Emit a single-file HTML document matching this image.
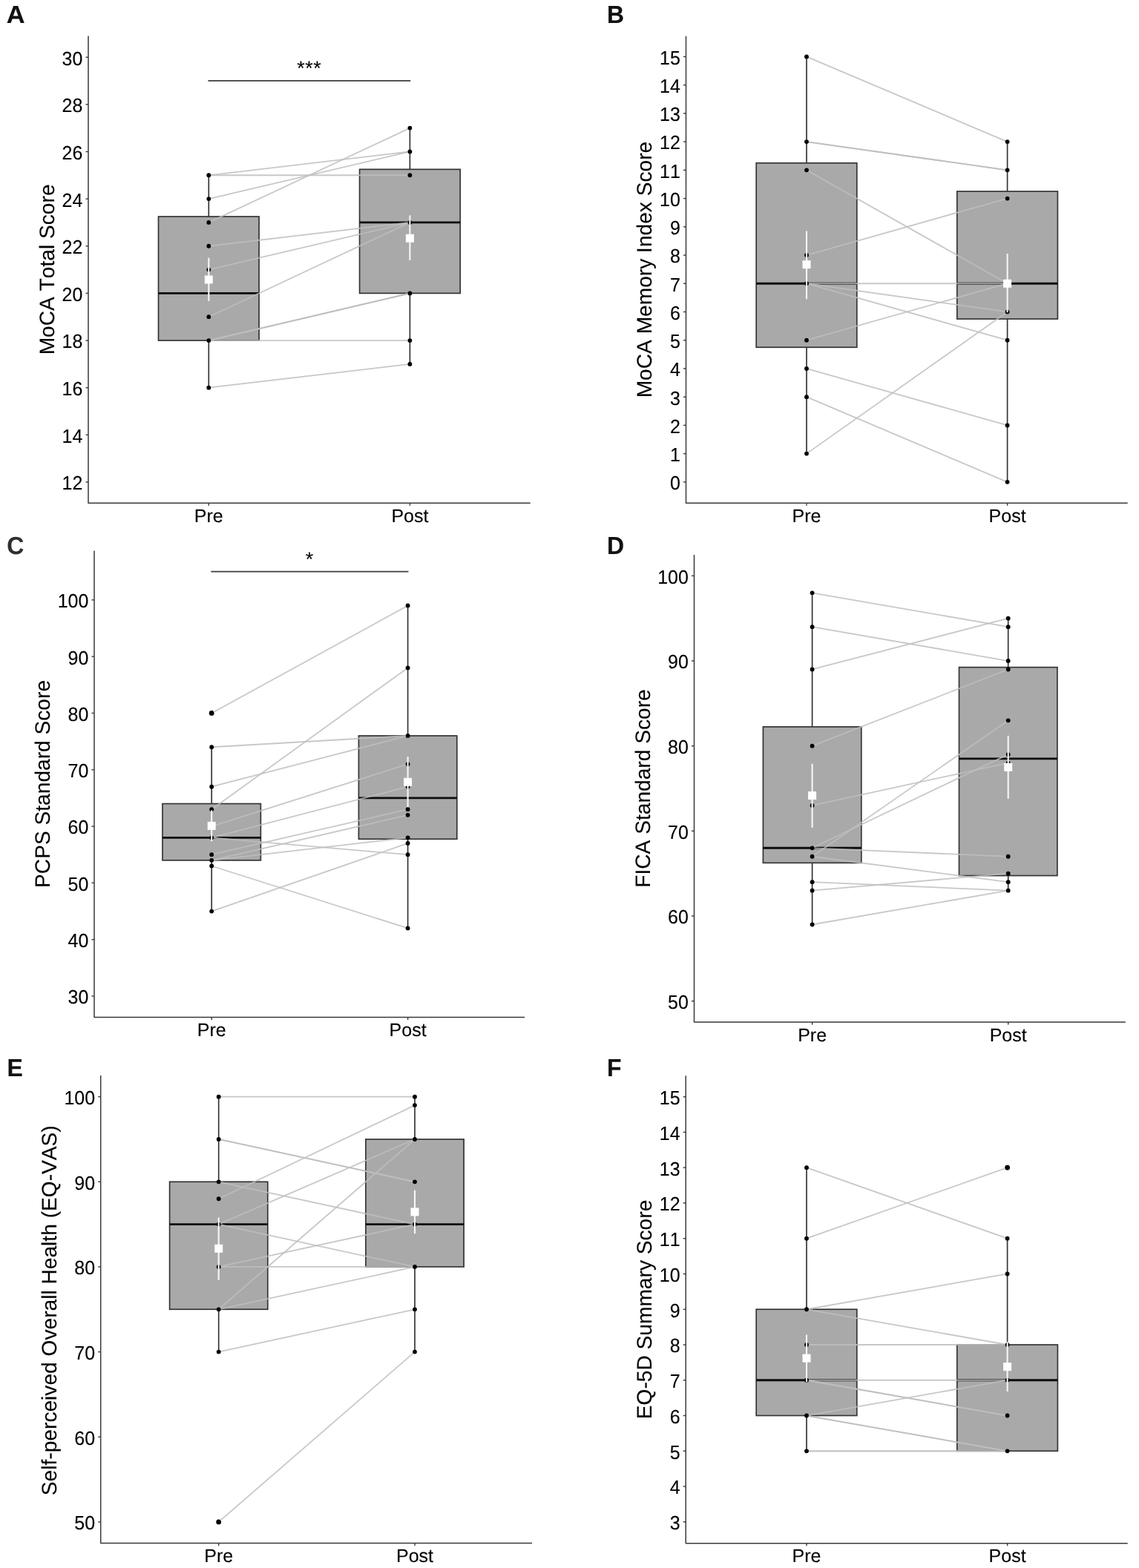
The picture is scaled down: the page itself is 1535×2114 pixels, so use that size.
<!DOCTYPE html>
<html lang="en"><head><meta charset="utf-8"><title>Figure: Pre vs Post outcome box plots</title>
<style>
html,body{margin:0;padding:0;background:#fff;}
body{width:1535px;height:2114px;overflow:hidden;}
svg{display:block;}
text{font-family:"Liberation Sans", sans-serif;fill:#000000;stroke:#000000;stroke-width:0.12px;font-kerning:none;text-rendering:geometricPrecision;}
.tick{font-size:25px;text-anchor:end;}
.xl{font-size:25px;text-anchor:middle;}
.ttl{font-size:28.15px;text-anchor:middle;}
.lab{font-size:32px;font-weight:bold;fill:#111;}
.sig{font-size:26.8px;text-anchor:middle;letter-spacing:0.62px;}
.ax{stroke:#3a3a3a;stroke-width:1.5;fill:none;stroke-linejoin:round;}
.tk{stroke:#3a3a3a;stroke-width:1.4;fill:none;}
.bx{fill:#a9a9a9;stroke:#333333;stroke-width:1.67;}
.wh{stroke:#333333;stroke-width:1.67;fill:none;}
.md{stroke:#0d0d0d;stroke-width:2.9;fill:none;}
.ln{stroke:#bebebe;stroke-opacity:0.85;stroke-width:1.8;fill:none;stroke-linecap:butt;}
.pt{fill:#000;}
.eb{stroke:#f6f6f6;stroke-width:2.1;fill:none;}
.mn{fill:#fff;}
.sg{stroke:#3c3c3c;stroke-width:1.7;fill:none;stroke-linecap:square;}
</style></head><body>
<svg width="1535" height="2114" viewBox="0 0 1535 2114" role="img" aria-label="Pre versus Post box plots, panels A to F">
<rect x="0" y="0" width="1535" height="2114" fill="#ffffff"/>
<g id="panel-A">
<line class="wh" x1="281.3" y1="236.27" x2="281.3" y2="291.97"/>
<line class="wh" x1="281.3" y1="459.05" x2="281.3" y2="522.7"/>
<rect class="bx" x="213.5" y="291.97" width="135.6" height="167.08"/>
<line class="md" x1="213.5" y1="395.4" x2="349.1" y2="395.4"/>
<line class="wh" x1="552.4" y1="172.62" x2="552.4" y2="228.32"/>
<line class="wh" x1="552.4" y1="395.4" x2="552.4" y2="490.88"/>
<rect class="bx" x="484.6" y="228.32" width="135.6" height="167.08"/>
<line class="md" x1="484.6" y1="299.92" x2="620.2" y2="299.92"/>
<line class="ln" x1="281.3" y1="236.27" x2="552.4" y2="204.45"/>
<line class="ln" x1="281.3" y1="236.27" x2="552.4" y2="236.27"/>
<line class="ln" x1="281.3" y1="268.1" x2="552.4" y2="204.45"/>
<line class="ln" x1="281.3" y1="299.92" x2="552.4" y2="172.62"/>
<line class="ln" x1="281.3" y1="331.75" x2="552.4" y2="299.92"/>
<line class="ln" x1="281.3" y1="363.57" x2="552.4" y2="299.92"/>
<line class="ln" x1="281.3" y1="427.22" x2="552.4" y2="299.92"/>
<line class="ln" x1="281.3" y1="459.05" x2="552.4" y2="395.4"/>
<line class="ln" x1="281.3" y1="459.05" x2="552.4" y2="395.4"/>
<line class="ln" x1="281.3" y1="459.05" x2="552.4" y2="395.4"/>
<line class="ln" x1="281.3" y1="459.05" x2="552.4" y2="459.05"/>
<line class="ln" x1="281.3" y1="522.7" x2="552.4" y2="490.88"/>
<circle class="pt" cx="281.3" cy="522.7" r="2.9"/>
<circle class="pt" cx="281.3" cy="459.05" r="2.9"/>
<circle class="pt" cx="281.3" cy="427.22" r="2.9"/>
<circle class="pt" cx="281.3" cy="363.57" r="2.9"/>
<circle class="pt" cx="281.3" cy="331.75" r="2.9"/>
<circle class="pt" cx="281.3" cy="299.92" r="2.9"/>
<circle class="pt" cx="281.3" cy="268.1" r="2.9"/>
<circle class="pt" cx="281.3" cy="236.27" r="2.9"/>
<circle class="pt" cx="552.4" cy="490.88" r="2.9"/>
<circle class="pt" cx="552.4" cy="459.05" r="2.9"/>
<circle class="pt" cx="552.4" cy="395.4" r="2.9"/>
<circle class="pt" cx="552.4" cy="299.92" r="2.9"/>
<circle class="pt" cx="552.4" cy="236.27" r="2.9"/>
<circle class="pt" cx="552.4" cy="204.45" r="2.9"/>
<circle class="pt" cx="552.4" cy="172.62" r="2.9"/>
<line class="eb" x1="281.3" y1="347.66" x2="281.3" y2="405.9"/>
<rect class="mn" x="275.8" y="371.44" width="11" height="11"/>
<line class="eb" x1="552.4" y1="290.38" x2="552.4" y2="350.85"/>
<rect class="mn" x="546.9" y="315.75" width="11" height="11"/>
<line class="sg" x1="281.3" y1="108.97" x2="552.4" y2="108.97"/>
<text class="sig" x="416.85" y="101.37">***</text>
<path class="ax" d="M119 48.5 V678.3 H714.7"/>
<line class="tk" x1="115.5" y1="650" x2="119" y2="650"/>
<text class="tick" transform="translate(111.4 660.4) scale(1 1.04)">12</text>
<line class="tk" x1="115.5" y1="586.35" x2="119" y2="586.35"/>
<text class="tick" transform="translate(111.4 596.75) scale(1 1.04)">14</text>
<line class="tk" x1="115.5" y1="522.7" x2="119" y2="522.7"/>
<text class="tick" transform="translate(111.4 533.1) scale(1 1.04)">16</text>
<line class="tk" x1="115.5" y1="459.05" x2="119" y2="459.05"/>
<text class="tick" transform="translate(111.4 469.45) scale(1 1.04)">18</text>
<line class="tk" x1="115.5" y1="395.4" x2="119" y2="395.4"/>
<text class="tick" transform="translate(111.4 405.8) scale(1 1.04)">20</text>
<line class="tk" x1="115.5" y1="331.75" x2="119" y2="331.75"/>
<text class="tick" transform="translate(111.4 342.15) scale(1 1.04)">22</text>
<line class="tk" x1="115.5" y1="268.1" x2="119" y2="268.1"/>
<text class="tick" transform="translate(111.4 278.5) scale(1 1.04)">24</text>
<line class="tk" x1="115.5" y1="204.45" x2="119" y2="204.45"/>
<text class="tick" transform="translate(111.4 214.85) scale(1 1.04)">26</text>
<line class="tk" x1="115.5" y1="140.8" x2="119" y2="140.8"/>
<text class="tick" transform="translate(111.4 151.2) scale(1 1.04)">28</text>
<line class="tk" x1="115.5" y1="77.15" x2="119" y2="77.15"/>
<text class="tick" transform="translate(111.4 87.55) scale(1 1.04)">30</text>
<line class="tk" x1="281.3" y1="678.3" x2="281.3" y2="681.8"/>
<text class="xl" transform="translate(281.3 703.9)">Pre</text>
<line class="tk" x1="552.4" y1="678.3" x2="552.4" y2="681.8"/>
<text class="xl" transform="translate(552.4 703.9)">Post</text>
<text class="ttl" transform="translate(72.8 363.4) rotate(-90)">MoCA Total Score</text>
<text class="lab" transform="translate(8.7 31) scale(1.075 1.04)">A</text>
</g>
<g id="panel-B">
<line class="wh" x1="1087" y1="76.4" x2="1087" y2="219.76"/>
<line class="wh" x1="1087" y1="468.26" x2="1087" y2="611.62"/>
<rect class="bx" x="1019.2" y="219.76" width="135.6" height="248.5"/>
<line class="md" x1="1019.2" y1="382.24" x2="1154.8" y2="382.24"/>
<line class="wh" x1="1357.6" y1="191.09" x2="1357.6" y2="257.99"/>
<line class="wh" x1="1357.6" y1="430.03" x2="1357.6" y2="649.85"/>
<rect class="bx" x="1289.8" y="257.99" width="135.6" height="172.03"/>
<line class="md" x1="1289.8" y1="382.24" x2="1425.4" y2="382.24"/>
<line class="ln" x1="1087" y1="76.4" x2="1357.6" y2="191.09"/>
<line class="ln" x1="1087" y1="191.09" x2="1357.6" y2="229.32"/>
<line class="ln" x1="1087" y1="191.09" x2="1357.6" y2="229.32"/>
<line class="ln" x1="1087" y1="229.32" x2="1357.6" y2="382.24"/>
<line class="ln" x1="1087" y1="344.01" x2="1357.6" y2="267.55"/>
<line class="ln" x1="1087" y1="382.24" x2="1357.6" y2="382.24"/>
<line class="ln" x1="1087" y1="382.24" x2="1357.6" y2="420.47"/>
<line class="ln" x1="1087" y1="382.24" x2="1357.6" y2="458.7"/>
<line class="ln" x1="1087" y1="458.7" x2="1357.6" y2="382.24"/>
<line class="ln" x1="1087" y1="496.93" x2="1357.6" y2="573.39"/>
<line class="ln" x1="1087" y1="535.16" x2="1357.6" y2="649.85"/>
<line class="ln" x1="1087" y1="611.62" x2="1357.6" y2="420.47"/>
<circle class="pt" cx="1087" cy="611.62" r="2.9"/>
<circle class="pt" cx="1087" cy="535.16" r="2.9"/>
<circle class="pt" cx="1087" cy="496.93" r="2.9"/>
<circle class="pt" cx="1087" cy="458.7" r="2.9"/>
<circle class="pt" cx="1087" cy="382.24" r="2.9"/>
<circle class="pt" cx="1087" cy="344.01" r="2.9"/>
<circle class="pt" cx="1087" cy="229.32" r="2.9"/>
<circle class="pt" cx="1087" cy="191.09" r="2.9"/>
<circle class="pt" cx="1087" cy="76.4" r="2.9"/>
<circle class="pt" cx="1357.6" cy="649.85" r="2.9"/>
<circle class="pt" cx="1357.6" cy="573.39" r="2.9"/>
<circle class="pt" cx="1357.6" cy="458.7" r="2.9"/>
<circle class="pt" cx="1357.6" cy="420.47" r="2.9"/>
<circle class="pt" cx="1357.6" cy="382.24" r="2.9"/>
<circle class="pt" cx="1357.6" cy="267.55" r="2.9"/>
<circle class="pt" cx="1357.6" cy="229.32" r="2.9"/>
<circle class="pt" cx="1357.6" cy="191.09" r="2.9"/>
<line class="eb" x1="1087" y1="311.51" x2="1087" y2="403.27"/>
<rect class="mn" x="1081.5" y="351.13" width="11" height="11"/>
<line class="eb" x1="1357.6" y1="342.1" x2="1357.6" y2="421.23"/>
<rect class="mn" x="1352.1" y="376.74" width="11" height="11"/>
<path class="ax" d="M924.5 48.8 V678.3 H1519.7"/>
<line class="tk" x1="921" y1="649.85" x2="924.5" y2="649.85"/>
<text class="tick" transform="translate(916.9 660.25) scale(1 1.04)">0</text>
<line class="tk" x1="921" y1="611.62" x2="924.5" y2="611.62"/>
<text class="tick" transform="translate(916.9 622.02) scale(1 1.04)">1</text>
<line class="tk" x1="921" y1="573.39" x2="924.5" y2="573.39"/>
<text class="tick" transform="translate(916.9 583.79) scale(1 1.04)">2</text>
<line class="tk" x1="921" y1="535.16" x2="924.5" y2="535.16"/>
<text class="tick" transform="translate(916.9 545.56) scale(1 1.04)">3</text>
<line class="tk" x1="921" y1="496.93" x2="924.5" y2="496.93"/>
<text class="tick" transform="translate(916.9 507.33) scale(1 1.04)">4</text>
<line class="tk" x1="921" y1="458.7" x2="924.5" y2="458.7"/>
<text class="tick" transform="translate(916.9 469.1) scale(1 1.04)">5</text>
<line class="tk" x1="921" y1="420.47" x2="924.5" y2="420.47"/>
<text class="tick" transform="translate(916.9 430.87) scale(1 1.04)">6</text>
<line class="tk" x1="921" y1="382.24" x2="924.5" y2="382.24"/>
<text class="tick" transform="translate(916.9 392.64) scale(1 1.04)">7</text>
<line class="tk" x1="921" y1="344.01" x2="924.5" y2="344.01"/>
<text class="tick" transform="translate(916.9 354.41) scale(1 1.04)">8</text>
<line class="tk" x1="921" y1="305.78" x2="924.5" y2="305.78"/>
<text class="tick" transform="translate(916.9 316.18) scale(1 1.04)">9</text>
<line class="tk" x1="921" y1="267.55" x2="924.5" y2="267.55"/>
<text class="tick" transform="translate(916.9 277.95) scale(1 1.04)">10</text>
<line class="tk" x1="921" y1="229.32" x2="924.5" y2="229.32"/>
<text class="tick" transform="translate(916.9 239.72) scale(1 1.04)">11</text>
<line class="tk" x1="921" y1="191.09" x2="924.5" y2="191.09"/>
<text class="tick" transform="translate(916.9 201.49) scale(1 1.04)">12</text>
<line class="tk" x1="921" y1="152.86" x2="924.5" y2="152.86"/>
<text class="tick" transform="translate(916.9 163.26) scale(1 1.04)">13</text>
<line class="tk" x1="921" y1="114.63" x2="924.5" y2="114.63"/>
<text class="tick" transform="translate(916.9 125.03) scale(1 1.04)">14</text>
<line class="tk" x1="921" y1="76.4" x2="924.5" y2="76.4"/>
<text class="tick" transform="translate(916.9 86.8) scale(1 1.04)">15</text>
<line class="tk" x1="1087" y1="678.3" x2="1087" y2="681.8"/>
<text class="xl" transform="translate(1087 703.9)">Pre</text>
<line class="tk" x1="1357.6" y1="678.3" x2="1357.6" y2="681.8"/>
<text class="xl" transform="translate(1357.6 703.9)">Post</text>
<text class="ttl" transform="translate(878.2 363.55) rotate(-90)">MoCA Memory Index Score</text>
<text class="lab" transform="translate(818 30.9) scale(1 1.04)">B</text>
</g>
<g id="panel-C">
<line class="wh" x1="285.2" y1="1007.24" x2="285.2" y2="1083.55"/>
<line class="wh" x1="285.2" y1="1159.86" x2="285.2" y2="1228.54"/>
<rect class="bx" x="219" y="1083.55" width="132.4" height="76.31"/>
<line class="md" x1="219" y1="1129.33" x2="351.4" y2="1129.33"/>
<circle class="pt" cx="285.2" cy="961.45" r="3.4"/>
<line class="wh" x1="549.6" y1="816.46" x2="549.6" y2="991.97"/>
<line class="wh" x1="549.6" y1="1131.24" x2="549.6" y2="1251.43"/>
<rect class="bx" x="483.4" y="991.97" width="132.4" height="139.27"/>
<line class="md" x1="483.4" y1="1075.91" x2="615.8" y2="1075.91"/>
<line class="ln" x1="285.2" y1="961.45" x2="549.6" y2="816.46"/>
<line class="ln" x1="285.2" y1="1007.24" x2="549.6" y2="991.97"/>
<line class="ln" x1="285.2" y1="1060.65" x2="549.6" y2="991.97"/>
<line class="ln" x1="285.2" y1="1091.18" x2="549.6" y2="900.4"/>
<line class="ln" x1="285.2" y1="1114.07" x2="549.6" y2="1030.13"/>
<line class="ln" x1="285.2" y1="1129.33" x2="549.6" y2="1060.65"/>
<line class="ln" x1="285.2" y1="1129.33" x2="549.6" y2="1152.22"/>
<line class="ln" x1="285.2" y1="1152.22" x2="549.6" y2="1091.18"/>
<line class="ln" x1="285.2" y1="1159.86" x2="549.6" y2="1098.81"/>
<line class="ln" x1="285.2" y1="1159.86" x2="549.6" y2="1129.33"/>
<line class="ln" x1="285.2" y1="1167.49" x2="549.6" y2="1251.43"/>
<line class="ln" x1="285.2" y1="1228.54" x2="549.6" y2="1136.96"/>
<circle class="pt" cx="285.2" cy="1228.54" r="2.9"/>
<circle class="pt" cx="285.2" cy="1167.49" r="2.9"/>
<circle class="pt" cx="285.2" cy="1159.86" r="2.9"/>
<circle class="pt" cx="285.2" cy="1152.22" r="2.9"/>
<circle class="pt" cx="285.2" cy="1129.33" r="2.9"/>
<circle class="pt" cx="285.2" cy="1114.07" r="2.9"/>
<circle class="pt" cx="285.2" cy="1091.18" r="2.9"/>
<circle class="pt" cx="285.2" cy="1060.65" r="2.9"/>
<circle class="pt" cx="285.2" cy="1007.24" r="2.9"/>
<circle class="pt" cx="285.2" cy="961.45" r="2.9"/>
<circle class="pt" cx="549.6" cy="1251.43" r="2.9"/>
<circle class="pt" cx="549.6" cy="1152.22" r="2.9"/>
<circle class="pt" cx="549.6" cy="1136.96" r="2.9"/>
<circle class="pt" cx="549.6" cy="1129.33" r="2.9"/>
<circle class="pt" cx="549.6" cy="1098.81" r="2.9"/>
<circle class="pt" cx="549.6" cy="1091.18" r="2.9"/>
<circle class="pt" cx="549.6" cy="1060.65" r="2.9"/>
<circle class="pt" cx="549.6" cy="1030.13" r="2.9"/>
<circle class="pt" cx="549.6" cy="991.97" r="2.9"/>
<circle class="pt" cx="549.6" cy="900.4" r="2.9"/>
<circle class="pt" cx="549.6" cy="816.46" r="2.9"/>
<line class="eb" x1="285.2" y1="1092.32" x2="285.2" y2="1134.29"/>
<rect class="mn" x="279.7" y="1107.96" width="11" height="11"/>
<line class="eb" x1="549.6" y1="1020.21" x2="549.6" y2="1088.12"/>
<rect class="mn" x="544.1" y="1048.82" width="11" height="11"/>
<line class="sg" x1="285.2" y1="770.67" x2="549.6" y2="770.67"/>
<text class="sig" x="417.4" y="763.07">*</text>
<path class="ax" d="M127 742.4 V1371.5 H707"/>
<line class="tk" x1="123.5" y1="1343" x2="127" y2="1343"/>
<text class="tick" transform="translate(119.4 1353.4) scale(1 1.04)">30</text>
<line class="tk" x1="123.5" y1="1266.69" x2="127" y2="1266.69"/>
<text class="tick" transform="translate(119.4 1277.09) scale(1 1.04)">40</text>
<line class="tk" x1="123.5" y1="1190.38" x2="127" y2="1190.38"/>
<text class="tick" transform="translate(119.4 1200.78) scale(1 1.04)">50</text>
<line class="tk" x1="123.5" y1="1114.07" x2="127" y2="1114.07"/>
<text class="tick" transform="translate(119.4 1124.47) scale(1 1.04)">60</text>
<line class="tk" x1="123.5" y1="1037.76" x2="127" y2="1037.76"/>
<text class="tick" transform="translate(119.4 1048.16) scale(1 1.04)">70</text>
<line class="tk" x1="123.5" y1="961.45" x2="127" y2="961.45"/>
<text class="tick" transform="translate(119.4 971.85) scale(1 1.04)">80</text>
<line class="tk" x1="123.5" y1="885.14" x2="127" y2="885.14"/>
<text class="tick" transform="translate(119.4 895.54) scale(1 1.04)">90</text>
<line class="tk" x1="123.5" y1="808.83" x2="127" y2="808.83"/>
<text class="tick" transform="translate(119.4 819.23) scale(1 1.04)">100</text>
<line class="tk" x1="285.2" y1="1371.5" x2="285.2" y2="1375"/>
<text class="xl" transform="translate(285.2 1397.1)">Pre</text>
<line class="tk" x1="549.6" y1="1371.5" x2="549.6" y2="1375"/>
<text class="xl" transform="translate(549.6 1397.1)">Post</text>
<text class="ttl" transform="translate(66.8 1056.95) rotate(-90)">PCPS Standard Score</text>
<text class="lab" style="fill:#2e2e2e;stroke:#2e2e2e" transform="translate(9.3 746.7) scale(1 1.04)">C</text>
</g>
<g id="panel-D">
<line class="wh" x1="1094.6" y1="799.28" x2="1094.6" y2="979.89"/>
<line class="wh" x1="1094.6" y1="1163.36" x2="1094.6" y2="1246.5"/>
<rect class="bx" x="1028.4" y="979.89" width="132.4" height="183.47"/>
<line class="md" x1="1028.4" y1="1143.29" x2="1160.8" y2="1143.29"/>
<line class="wh" x1="1358.7" y1="833.69" x2="1358.7" y2="899.62"/>
<line class="wh" x1="1358.7" y1="1180.56" x2="1358.7" y2="1200.63"/>
<rect class="bx" x="1292.5" y="899.62" width="132.4" height="280.94"/>
<line class="md" x1="1292.5" y1="1022.89" x2="1424.9" y2="1022.89"/>
<line class="ln" x1="1094.6" y1="799.28" x2="1358.7" y2="845.15"/>
<line class="ln" x1="1094.6" y1="845.15" x2="1358.7" y2="891.02"/>
<line class="ln" x1="1094.6" y1="902.49" x2="1358.7" y2="833.69"/>
<line class="ln" x1="1094.6" y1="1005.69" x2="1358.7" y2="902.49"/>
<line class="ln" x1="1094.6" y1="1085.96" x2="1358.7" y2="1028.62"/>
<line class="ln" x1="1094.6" y1="1154.76" x2="1358.7" y2="971.29"/>
<line class="ln" x1="1094.6" y1="1143.29" x2="1358.7" y2="1017.16"/>
<line class="ln" x1="1094.6" y1="1143.29" x2="1358.7" y2="1154.76"/>
<line class="ln" x1="1094.6" y1="1154.76" x2="1358.7" y2="1189.16"/>
<line class="ln" x1="1094.6" y1="1189.16" x2="1358.7" y2="1200.63"/>
<line class="ln" x1="1094.6" y1="1200.63" x2="1358.7" y2="1177.7"/>
<line class="ln" x1="1094.6" y1="1246.5" x2="1358.7" y2="1200.63"/>
<circle class="pt" cx="1094.6" cy="1246.5" r="2.9"/>
<circle class="pt" cx="1094.6" cy="1200.63" r="2.9"/>
<circle class="pt" cx="1094.6" cy="1189.16" r="2.9"/>
<circle class="pt" cx="1094.6" cy="1154.76" r="2.9"/>
<circle class="pt" cx="1094.6" cy="1143.29" r="2.9"/>
<circle class="pt" cx="1094.6" cy="1085.96" r="2.9"/>
<circle class="pt" cx="1094.6" cy="1005.69" r="2.9"/>
<circle class="pt" cx="1094.6" cy="902.49" r="2.9"/>
<circle class="pt" cx="1094.6" cy="845.15" r="2.9"/>
<circle class="pt" cx="1094.6" cy="799.28" r="2.9"/>
<circle class="pt" cx="1358.7" cy="1200.63" r="2.9"/>
<circle class="pt" cx="1358.7" cy="1189.16" r="2.9"/>
<circle class="pt" cx="1358.7" cy="1177.7" r="2.9"/>
<circle class="pt" cx="1358.7" cy="1154.76" r="2.9"/>
<circle class="pt" cx="1358.7" cy="1028.62" r="2.9"/>
<circle class="pt" cx="1358.7" cy="1017.16" r="2.9"/>
<circle class="pt" cx="1358.7" cy="971.29" r="2.9"/>
<circle class="pt" cx="1358.7" cy="902.49" r="2.9"/>
<circle class="pt" cx="1358.7" cy="891.02" r="2.9"/>
<circle class="pt" cx="1358.7" cy="845.15" r="2.9"/>
<circle class="pt" cx="1358.7" cy="833.69" r="2.9"/>
<line class="eb" x1="1094.6" y1="1029.77" x2="1094.6" y2="1115.77"/>
<rect class="mn" x="1089.1" y="1067.04" width="11" height="11"/>
<line class="eb" x1="1358.7" y1="991.93" x2="1358.7" y2="1076.79"/>
<rect class="mn" x="1353.2" y="1028.86" width="11" height="11"/>
<path class="ax" d="M935.5 747.9 V1378.1 H1516.8"/>
<line class="tk" x1="932" y1="1349.7" x2="935.5" y2="1349.7"/>
<text class="tick" transform="translate(927.9 1360.1) scale(1 1.04)">50</text>
<line class="tk" x1="932" y1="1235.03" x2="935.5" y2="1235.03"/>
<text class="tick" transform="translate(927.9 1245.43) scale(1 1.04)">60</text>
<line class="tk" x1="932" y1="1120.36" x2="935.5" y2="1120.36"/>
<text class="tick" transform="translate(927.9 1130.76) scale(1 1.04)">70</text>
<line class="tk" x1="932" y1="1005.69" x2="935.5" y2="1005.69"/>
<text class="tick" transform="translate(927.9 1016.09) scale(1 1.04)">80</text>
<line class="tk" x1="932" y1="891.02" x2="935.5" y2="891.02"/>
<text class="tick" transform="translate(927.9 901.42) scale(1 1.04)">90</text>
<line class="tk" x1="932" y1="776.35" x2="935.5" y2="776.35"/>
<text class="tick" transform="translate(927.9 786.75) scale(1 1.04)">100</text>
<line class="tk" x1="1094.6" y1="1378.1" x2="1094.6" y2="1381.6"/>
<text class="xl" transform="translate(1094.6 1403.7)">Pre</text>
<line class="tk" x1="1358.7" y1="1378.1" x2="1358.7" y2="1381.6"/>
<text class="xl" transform="translate(1358.7 1403.7)">Post</text>
<text class="ttl" transform="translate(876.3 1063) rotate(-90)">FICA Standard Score</text>
<text class="lab" transform="translate(818 746.8) scale(1 1.04)">D</text>
</g>
<g id="panel-E">
<line class="wh" x1="294.7" y1="1478.65" x2="294.7" y2="1593.3"/>
<line class="wh" x1="294.7" y1="1765.28" x2="294.7" y2="1822.6"/>
<rect class="bx" x="228.6" y="1593.3" width="132.2" height="171.97"/>
<line class="md" x1="228.6" y1="1650.62" x2="360.8" y2="1650.62"/>
<circle class="pt" cx="294.7" cy="2051.9" r="3.4"/>
<line class="wh" x1="559" y1="1478.65" x2="559" y2="1535.98"/>
<line class="wh" x1="559" y1="1707.95" x2="559" y2="1822.6"/>
<rect class="bx" x="492.9" y="1535.98" width="132.2" height="171.97"/>
<line class="md" x1="492.9" y1="1650.62" x2="625.1" y2="1650.62"/>
<line class="ln" x1="294.7" y1="1478.65" x2="559" y2="1478.65"/>
<line class="ln" x1="294.7" y1="1535.98" x2="559" y2="1593.3"/>
<line class="ln" x1="294.7" y1="1535.98" x2="559" y2="1593.3"/>
<line class="ln" x1="294.7" y1="1593.3" x2="559" y2="1650.62"/>
<line class="ln" x1="294.7" y1="1616.23" x2="559" y2="1490.12"/>
<line class="ln" x1="294.7" y1="1650.62" x2="559" y2="1535.98"/>
<line class="ln" x1="294.7" y1="1650.62" x2="559" y2="1707.95"/>
<line class="ln" x1="294.7" y1="1707.95" x2="559" y2="1650.62"/>
<line class="ln" x1="294.7" y1="1707.95" x2="559" y2="1707.95"/>
<line class="ln" x1="294.7" y1="1765.28" x2="559" y2="1535.98"/>
<line class="ln" x1="294.7" y1="1765.28" x2="559" y2="1707.95"/>
<line class="ln" x1="294.7" y1="1822.6" x2="559" y2="1765.28"/>
<line class="ln" x1="294.7" y1="2051.9" x2="559" y2="1822.6"/>
<circle class="pt" cx="294.7" cy="2051.9" r="2.9"/>
<circle class="pt" cx="294.7" cy="1822.6" r="2.9"/>
<circle class="pt" cx="294.7" cy="1765.28" r="2.9"/>
<circle class="pt" cx="294.7" cy="1707.95" r="2.9"/>
<circle class="pt" cx="294.7" cy="1650.62" r="2.9"/>
<circle class="pt" cx="294.7" cy="1616.23" r="2.9"/>
<circle class="pt" cx="294.7" cy="1593.3" r="2.9"/>
<circle class="pt" cx="294.7" cy="1535.98" r="2.9"/>
<circle class="pt" cx="294.7" cy="1478.65" r="2.9"/>
<circle class="pt" cx="559" cy="1822.6" r="2.9"/>
<circle class="pt" cx="559" cy="1765.28" r="2.9"/>
<circle class="pt" cx="559" cy="1707.95" r="2.9"/>
<circle class="pt" cx="559" cy="1650.62" r="2.9"/>
<circle class="pt" cx="559" cy="1593.3" r="2.9"/>
<circle class="pt" cx="559" cy="1535.98" r="2.9"/>
<circle class="pt" cx="559" cy="1490.12" r="2.9"/>
<circle class="pt" cx="559" cy="1478.65" r="2.9"/>
<line class="eb" x1="294.7" y1="1641.45" x2="294.7" y2="1725.72"/>
<rect class="mn" x="289.2" y="1677.8" width="11" height="11"/>
<line class="eb" x1="559" y1="1604.77" x2="559" y2="1663.24"/>
<rect class="mn" x="553.5" y="1628.39" width="11" height="11"/>
<path class="ax" d="M135.7 1450 V2080.6 H717.1"/>
<line class="tk" x1="132.2" y1="2051.9" x2="135.7" y2="2051.9"/>
<text class="tick" transform="translate(128.1 2062.3) scale(1 1.04)">50</text>
<line class="tk" x1="132.2" y1="1937.25" x2="135.7" y2="1937.25"/>
<text class="tick" transform="translate(128.1 1947.65) scale(1 1.04)">60</text>
<line class="tk" x1="132.2" y1="1822.6" x2="135.7" y2="1822.6"/>
<text class="tick" transform="translate(128.1 1833) scale(1 1.04)">70</text>
<line class="tk" x1="132.2" y1="1707.95" x2="135.7" y2="1707.95"/>
<text class="tick" transform="translate(128.1 1718.35) scale(1 1.04)">80</text>
<line class="tk" x1="132.2" y1="1593.3" x2="135.7" y2="1593.3"/>
<text class="tick" transform="translate(128.1 1603.7) scale(1 1.04)">90</text>
<line class="tk" x1="132.2" y1="1478.65" x2="135.7" y2="1478.65"/>
<text class="tick" transform="translate(128.1 1489.05) scale(1 1.04)">100</text>
<line class="tk" x1="294.7" y1="2080.6" x2="294.7" y2="2084.1"/>
<text class="xl" transform="translate(294.7 2106.2)">Pre</text>
<line class="tk" x1="559" y1="2080.6" x2="559" y2="2084.1"/>
<text class="xl" transform="translate(559 2106.2)">Post</text>
<text class="ttl" transform="translate(75.7 1766.7) rotate(-90)">Self-perceived Overall Health (EQ-VAS)</text>
<text class="lab" transform="translate(9.6 1451.1) scale(1 1.04)">E</text>
</g>
<g id="panel-F">
<line class="wh" x1="1087" y1="1574.2" x2="1087" y2="1765.24"/>
<line class="wh" x1="1087" y1="1908.52" x2="1087" y2="1956.28"/>
<rect class="bx" x="1019.2" y="1765.24" width="135.6" height="143.28"/>
<line class="md" x1="1019.2" y1="1860.76" x2="1154.8" y2="1860.76"/>
<line class="wh" x1="1357.6" y1="1669.72" x2="1357.6" y2="1813"/>
<line class="wh" x1="1357.6" y1="1956.28" x2="1357.6" y2="1956.28"/>
<rect class="bx" x="1289.8" y="1813" width="135.6" height="143.28"/>
<line class="md" x1="1289.8" y1="1860.76" x2="1425.4" y2="1860.76"/>
<circle class="pt" cx="1357.6" cy="1574.2" r="3.4"/>
<line class="ln" x1="1087" y1="1574.2" x2="1357.6" y2="1669.72"/>
<line class="ln" x1="1087" y1="1669.72" x2="1357.6" y2="1574.2"/>
<line class="ln" x1="1087" y1="1765.24" x2="1357.6" y2="1717.48"/>
<line class="ln" x1="1087" y1="1765.24" x2="1357.6" y2="1813"/>
<line class="ln" x1="1087" y1="1813" x2="1357.6" y2="1813"/>
<line class="ln" x1="1087" y1="1860.76" x2="1357.6" y2="1860.76"/>
<line class="ln" x1="1087" y1="1860.76" x2="1357.6" y2="1908.52"/>
<line class="ln" x1="1087" y1="1860.76" x2="1357.6" y2="1908.52"/>
<line class="ln" x1="1087" y1="1908.52" x2="1357.6" y2="1860.76"/>
<line class="ln" x1="1087" y1="1908.52" x2="1357.6" y2="1956.28"/>
<line class="ln" x1="1087" y1="1908.52" x2="1357.6" y2="1956.28"/>
<line class="ln" x1="1087" y1="1956.28" x2="1357.6" y2="1956.28"/>
<line class="ln" x1="1087" y1="1956.28" x2="1357.6" y2="1956.28"/>
<circle class="pt" cx="1087" cy="1956.28" r="2.9"/>
<circle class="pt" cx="1087" cy="1908.52" r="2.9"/>
<circle class="pt" cx="1087" cy="1860.76" r="2.9"/>
<circle class="pt" cx="1087" cy="1813" r="2.9"/>
<circle class="pt" cx="1087" cy="1765.24" r="2.9"/>
<circle class="pt" cx="1087" cy="1669.72" r="2.9"/>
<circle class="pt" cx="1087" cy="1574.2" r="2.9"/>
<circle class="pt" cx="1357.6" cy="1956.28" r="2.9"/>
<circle class="pt" cx="1357.6" cy="1908.52" r="2.9"/>
<circle class="pt" cx="1357.6" cy="1860.76" r="2.9"/>
<circle class="pt" cx="1357.6" cy="1813" r="2.9"/>
<circle class="pt" cx="1357.6" cy="1717.48" r="2.9"/>
<circle class="pt" cx="1357.6" cy="1669.72" r="2.9"/>
<circle class="pt" cx="1357.6" cy="1574.2" r="2.9"/>
<line class="eb" x1="1087" y1="1799.63" x2="1087" y2="1863.15"/>
<rect class="mn" x="1081.5" y="1825.65" width="11" height="11"/>
<line class="eb" x1="1357.6" y1="1809.18" x2="1357.6" y2="1876.04"/>
<rect class="mn" x="1352.1" y="1837.11" width="11" height="11"/>
<path class="ax" d="M924.2 1450.3 V2080.7 H1519.7"/>
<line class="tk" x1="920.7" y1="2051.8" x2="924.2" y2="2051.8"/>
<text class="tick" transform="translate(916.6 2062.2) scale(1 1.04)">3</text>
<line class="tk" x1="920.7" y1="2004.04" x2="924.2" y2="2004.04"/>
<text class="tick" transform="translate(916.6 2014.44) scale(1 1.04)">4</text>
<line class="tk" x1="920.7" y1="1956.28" x2="924.2" y2="1956.28"/>
<text class="tick" transform="translate(916.6 1966.68) scale(1 1.04)">5</text>
<line class="tk" x1="920.7" y1="1908.52" x2="924.2" y2="1908.52"/>
<text class="tick" transform="translate(916.6 1918.92) scale(1 1.04)">6</text>
<line class="tk" x1="920.7" y1="1860.76" x2="924.2" y2="1860.76"/>
<text class="tick" transform="translate(916.6 1871.16) scale(1 1.04)">7</text>
<line class="tk" x1="920.7" y1="1813" x2="924.2" y2="1813"/>
<text class="tick" transform="translate(916.6 1823.4) scale(1 1.04)">8</text>
<line class="tk" x1="920.7" y1="1765.24" x2="924.2" y2="1765.24"/>
<text class="tick" transform="translate(916.6 1775.64) scale(1 1.04)">9</text>
<line class="tk" x1="920.7" y1="1717.48" x2="924.2" y2="1717.48"/>
<text class="tick" transform="translate(916.6 1727.88) scale(1 1.04)">10</text>
<line class="tk" x1="920.7" y1="1669.72" x2="924.2" y2="1669.72"/>
<text class="tick" transform="translate(916.6 1680.12) scale(1 1.04)">11</text>
<line class="tk" x1="920.7" y1="1621.96" x2="924.2" y2="1621.96"/>
<text class="tick" transform="translate(916.6 1632.36) scale(1 1.04)">12</text>
<line class="tk" x1="920.7" y1="1574.2" x2="924.2" y2="1574.2"/>
<text class="tick" transform="translate(916.6 1584.6) scale(1 1.04)">13</text>
<line class="tk" x1="920.7" y1="1526.44" x2="924.2" y2="1526.44"/>
<text class="tick" transform="translate(916.6 1536.84) scale(1 1.04)">14</text>
<line class="tk" x1="920.7" y1="1478.68" x2="924.2" y2="1478.68"/>
<text class="tick" transform="translate(916.6 1489.08) scale(1 1.04)">15</text>
<line class="tk" x1="1087" y1="2080.7" x2="1087" y2="2084.2"/>
<text class="xl" transform="translate(1087 2106.3)">Pre</text>
<line class="tk" x1="1357.6" y1="2080.7" x2="1357.6" y2="2084.2"/>
<text class="xl" transform="translate(1357.6 2106.3)">Post</text>
<text class="ttl" transform="translate(878.2 1765.5) rotate(-90)">EQ-5D Summary Score</text>
<text class="lab" transform="translate(818 1451.1) scale(1 1.04)">F</text>
</g>
</svg>
</body></html>
